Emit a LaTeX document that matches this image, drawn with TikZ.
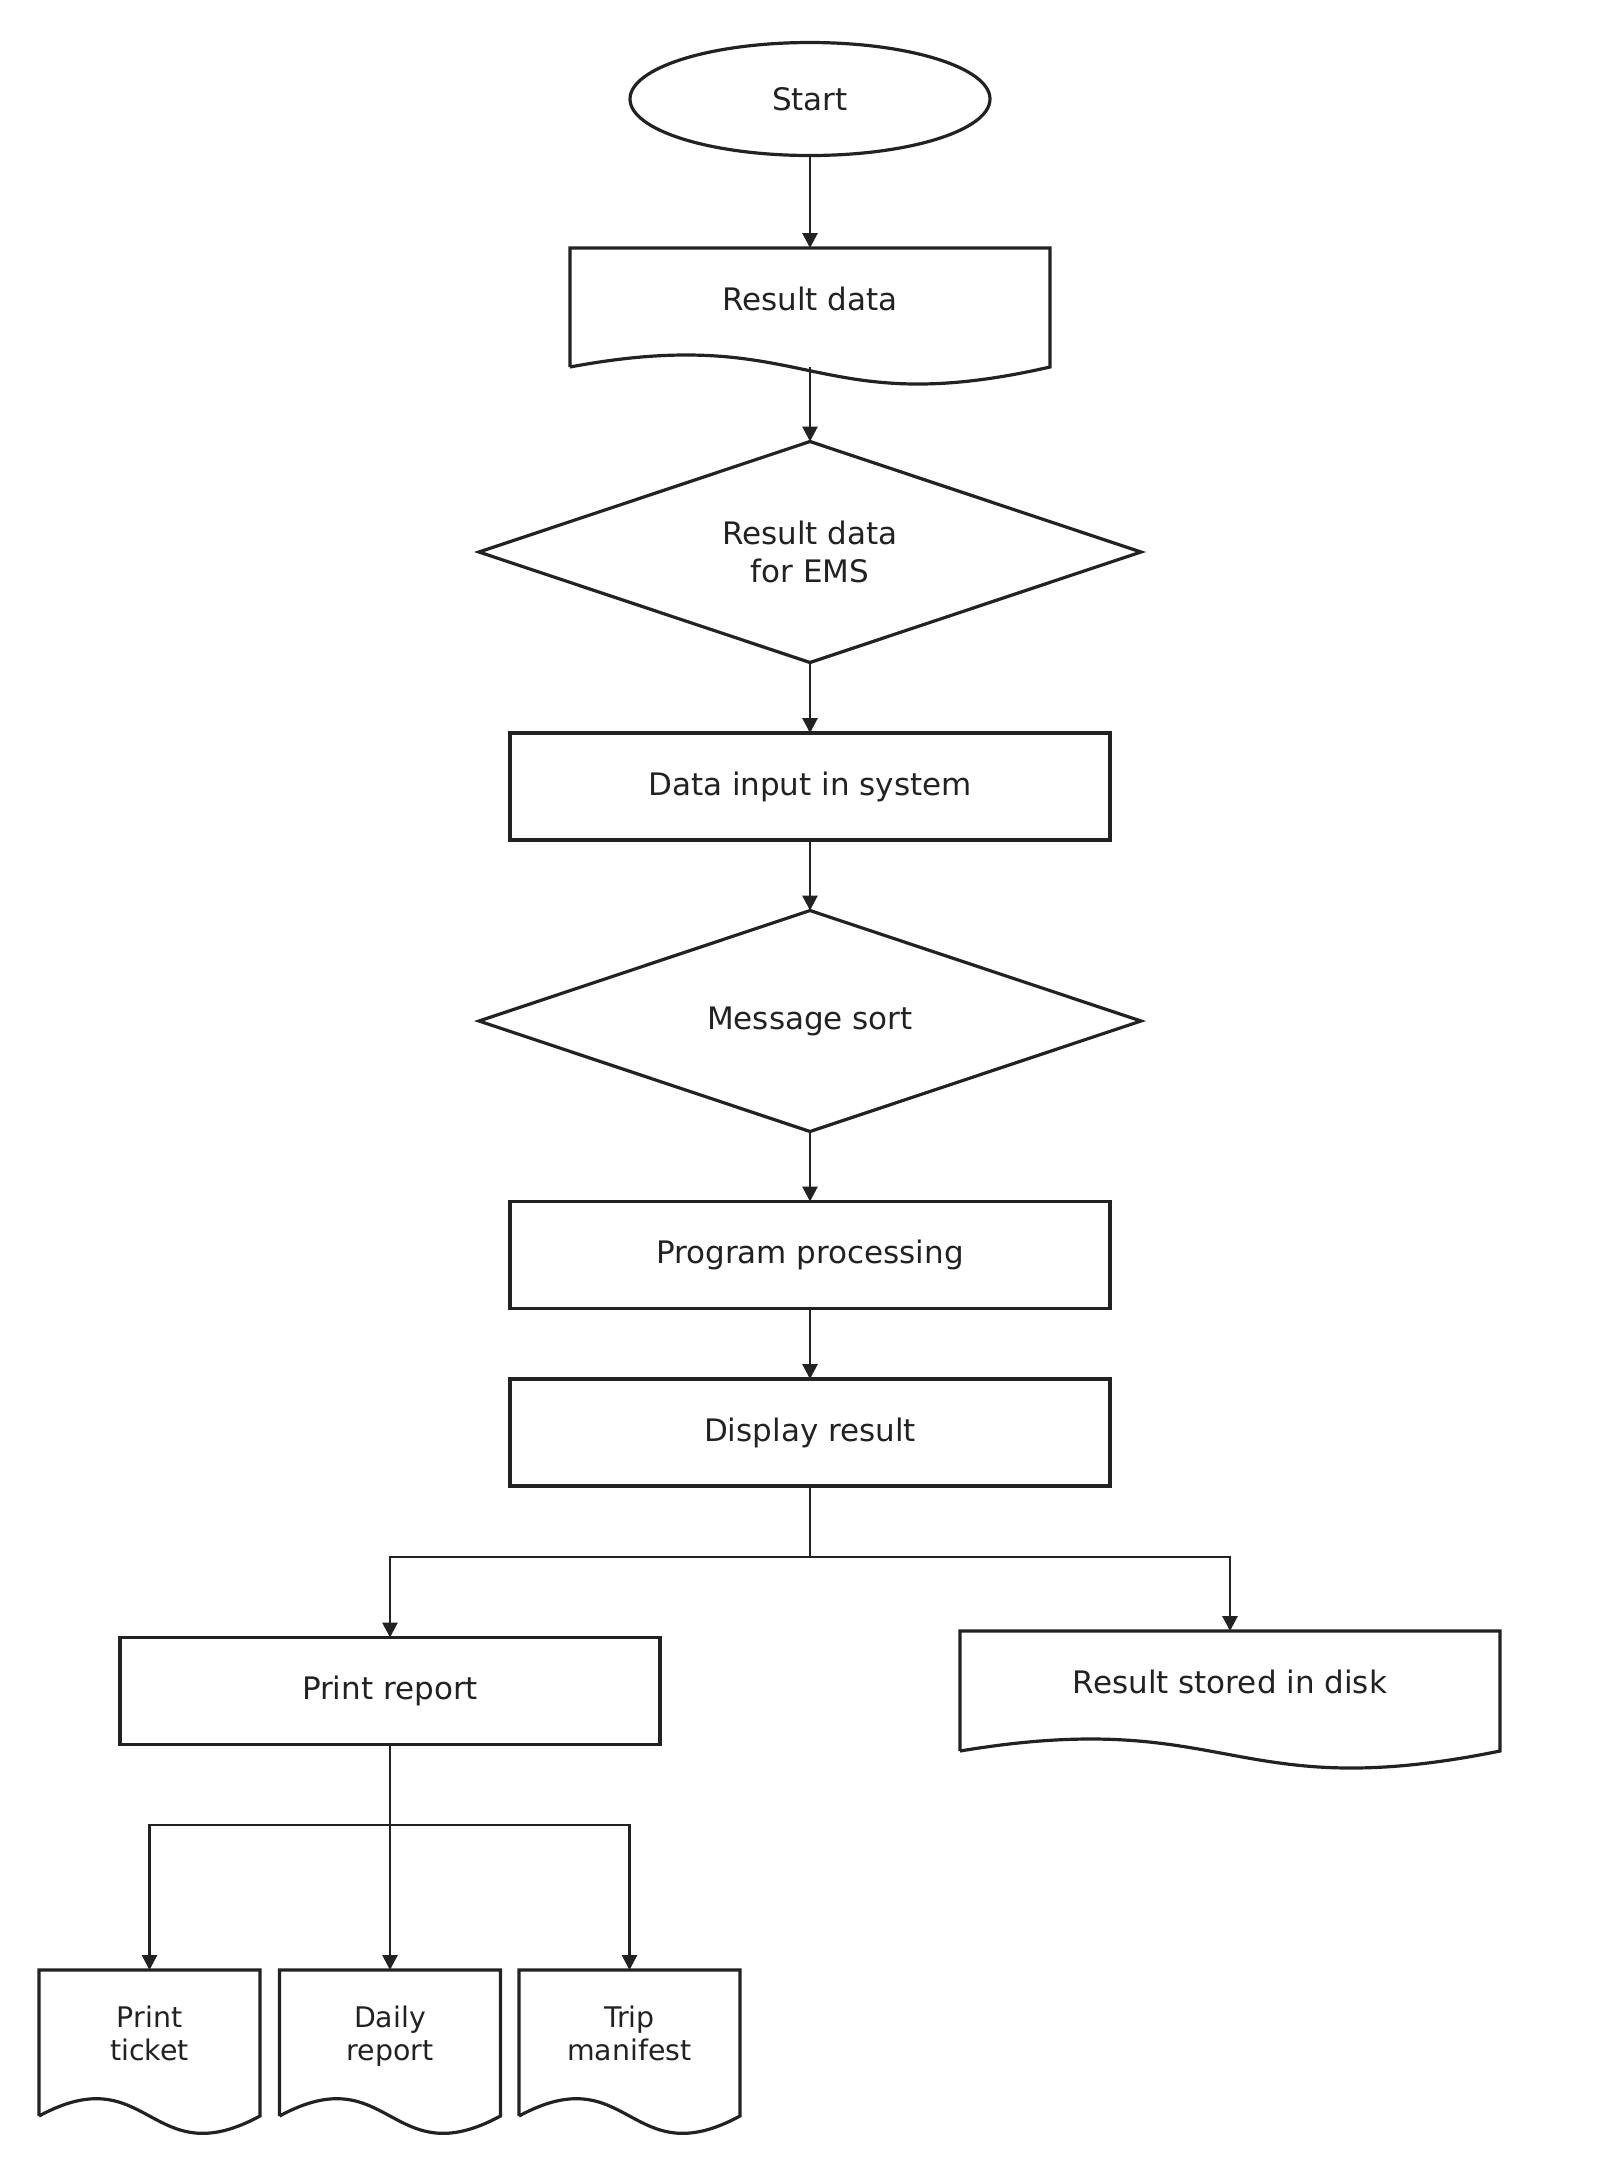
\documentclass[tikz,border=0pt]{standalone}
\usepackage{fontspec}
\setmainfont{DejaVu Sans}
\usetikzlibrary{arrows.meta,shapes.geometric}
\definecolor{ink}{HTML}{222222}
\begin{document}
\begin{tikzpicture}[x=0.5pt,y=-0.5pt,
  every node/.style={text=ink, font=\fontsize{15.5}{18.6}\selectfont, align=center, inner sep=0pt, outer sep=0pt},
  box/.style={draw=ink, line width=1.6pt, rectangle, minimum width=300pt, minimum height=53.5pt},
  dia/.style={draw=ink, line width=1.6pt, diamond, aspect=3, minimum width=331pt, minimum height=110.5pt},
  term/.style={draw=ink, line width=1.6pt, ellipse, minimum width=180pt, minimum height=56.5pt},
  docarea/.style={rectangle, draw=none},
  outline/.style={draw=ink, line width=1.6pt, line join=miter},
  conn/.style={draw=ink, line width=1.4pt},
  arr/.style={conn, -{Triangle[length=7.5pt,width=7.5pt]}},
  small/.style={font=\fontsize{14.2}{16.5}\selectfont}
]
\useasboundingbox (0,0) rectangle (1620,2160);

\node[term] (start) at (810,99) {Start};

\node[docarea, minimum width=240pt, minimum height=51pt] (rd) at (810,299) {Result data};
\draw[outline] (570,367) -- (570,248) -- (1050,248) -- (1050,367) .. controls (810,422) and (810,322) .. (570,367);
\coordinate (rdb) at (810,367);

\node[dia] (d1) at (810,552) {Result data\\for EMS};
\node[box] (din) at (810,786.5) {Data input in system};
\node[dia] (d2) at (810,1021) {Message sort};
\node[box] (pp) at (810,1255) {Program processing};
\node[box] (dr) at (810,1432.5) {Display result};
\coordinate (br) at (810,1557);

\node[box, minimum width=270pt] (pr) at (390,1691) {Print report};

\node[docarea, minimum width=270pt, minimum height=51pt] (rs) at (1230,1682) {Result stored in disk};
\draw[outline] (960,1751) -- (960,1631) -- (1500,1631) -- (1500,1751) .. controls (1230,1806) and (1230,1706) .. (960,1751);

\coordinate (br2) at (390,1825);

\node[docarea, small, minimum width=110.5pt, minimum height=67.5pt] (pt) at (149.5,2037.5) {Print\strut\\ticket\strut};
\draw[outline] (39,2116) -- (39,1970) -- (260,1970) -- (260,2116) .. controls (149.5,2176) and (149.5,2056) .. (39,2116);

\node[docarea, small, minimum width=110.5pt, minimum height=67.5pt] (dy) at (390,2037.5) {Daily\strut\\report\strut};
\draw[outline] (279.5,2116) -- (279.5,1970) -- (500.5,1970) -- (500.5,2116) .. controls (390,2176) and (390,2056) .. (279.5,2116);

\node[docarea, small, minimum width=110.5pt, minimum height=67.5pt] (tm) at (629.5,2037.5) {Trip\strut\\manifest\strut};
\draw[outline] (519,2116) -- (519,1970) -- (740,1970) -- (740,2116) .. controls (629.5,2176) and (629.5,2056) .. (519,2116);

\draw[arr] (start.south) -- (rd.north);
\draw[arr] (rdb) -- (d1.north);
\draw[arr] (d1.south) -- (din.north);
\draw[arr] (din.south) -- (d2.north);
\draw[arr] (d2.south) -- (pp.north);
\draw[arr] (pp.south) -- (dr.north);
\draw[conn] (dr.south) -- (br);
\draw[arr] (br) -| (pr.north);
\draw[arr] (br) -| (rs.north);
\draw[arr] (pr.south) -- (dy.north);
\draw[arr] (br2) -| (pt.north);
\draw[arr] (br2) -| (tm.north);
\end{tikzpicture}
\end{document}
